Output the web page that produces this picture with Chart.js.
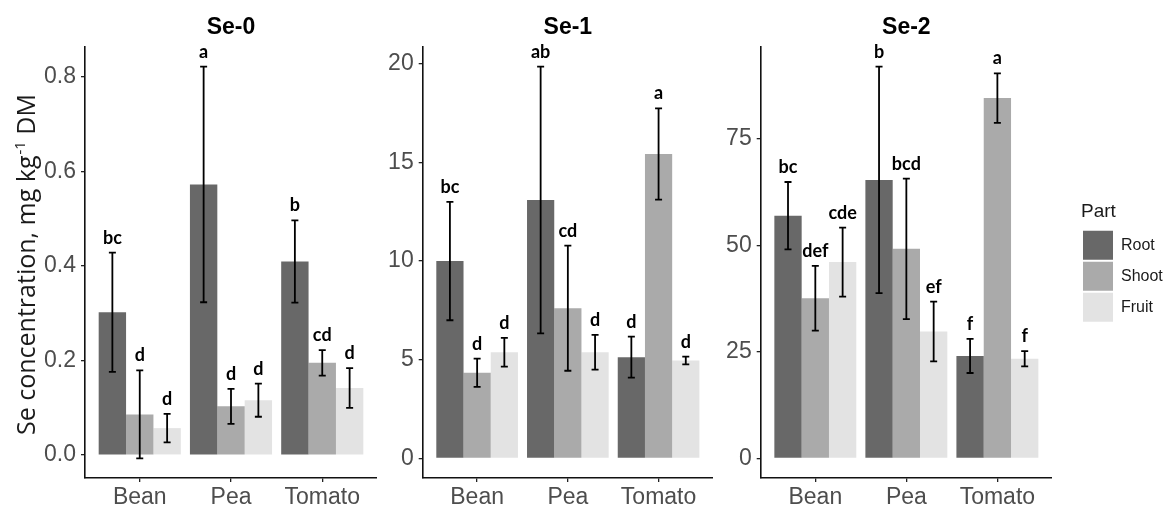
<!DOCTYPE html>
<html>
<head>
<meta charset="utf-8">
<script src="https://cdn.jsdelivr.net/npm/chart.js@4.4.1/dist/chart.umd.min.js"></script>
<style>
  html, body { margin: 0; padding: 0; background: #fff; overflow: hidden; }
  body { width: 1169px; height: 507px; position: relative; }
  canvas { position: absolute; top: 0; }
</style>
</head>
<body>
<canvas id="se0-chart" width="377" height="507" style="left:0px"></canvas>
<canvas id="se1-chart" width="333" height="507" style="left:380px"></canvas>
<canvas id="se2-chart" width="334" height="507" style="left:718px"></canvas>
<canvas id="legend-chart" width="240" height="507" style="left:1081px"></canvas>
<script>
const crops = ['Bean', 'Pea', 'Tomato'];
const parts = ['Root', 'Shoot', 'Fruit'];
const part_colors = ['#686868', '#aaaaaa', '#e3e3e3'];

// Se-0
const se0_root = [0.302, 0.572, 0.409];
const se0_root_err = [0.126, 0.249, 0.087];
const se0_shoot = [0.086, 0.103, 0.195];
const se0_shoot_err = [0.093, 0.037, 0.027];
const se0_fruit = [0.057, 0.116, 0.142];
const se0_fruit_err = [0.030, 0.035, 0.042];
const se0_letters = [['bc', 'a', 'b'], ['d', 'd', 'cd'], ['d', 'd', 'd']];
const se0_ticks = [0, 0.2, 0.4, 0.6, 0.8];
const se0_tick_labels = ['0.0', '0.2', '0.4', '0.6', '0.8'];

// Se-1
const se1_root = [10.0, 13.09, 5.13];
const se1_root_err = [3.0, 6.76, 1.04];
const se1_shoot = [4.34, 7.61, 15.42];
const se1_shoot_err = [0.72, 3.17, 2.31];
const se1_fruit = [5.38, 5.38, 4.96];
const se1_fruit_err = [0.73, 0.88, 0.2];
const se1_letters = [['bc', 'ab', 'd'], ['d', 'cd', 'a'], ['d', 'd', 'd']];
const se1_ticks = [0, 5, 10, 15, 20];
const se1_tick_labels = ['0', '5', '10', '15', '20'];

// Se-2
const se2_root = [57.0, 65.4, 24.05];
const se2_root_err = [7.9, 26.6, 4.0];
const se2_shoot = [37.6, 49.2, 84.6];
const se2_shoot_err = [7.6, 16.5, 5.8];
const se2_fruit = [46.1, 29.8, 23.4];
const se2_fruit_err = [8.1, 7.0, 1.8];
const se2_letters = [['bc', 'b', 'f'], ['def', 'bcd', 'a'], ['cde', 'ef', 'f']];
const se2_ticks = [0, 25, 50, 75];
const se2_tick_labels = ['0', '25', '50', '75'];

const tick_font = {family: '"Liberation Sans", Arial, sans-serif', size: 23};

const error_bars = {
	id: 'errorBars',
	afterDatasetsDraw(chart) {
		const ctx = chart.ctx;
		const y = chart.scales.y;
		ctx.save();
		chart.data.datasets.forEach((ds, d) => {
			const meta = chart.getDatasetMeta(d);
			meta.data.forEach((bar, i) => {
				const v = ds.data[i].y, e = ds.errors[i];
				const top = y.getPixelForValue(v + e);
				const bot = y.getPixelForValue(v - e);
				ctx.strokeStyle = '#000';
				ctx.lineWidth = 1.8;
				ctx.beginPath();
				ctx.moveTo(bar.x, top); ctx.lineTo(bar.x, bot);
				ctx.moveTo(bar.x - 3.5, top); ctx.lineTo(bar.x + 3.5, top);
				ctx.moveTo(bar.x - 3.5, bot); ctx.lineTo(bar.x + 3.5, bot);
				ctx.stroke();
				ctx.fillStyle = '#000';
				ctx.font = 'bold 18px Lato';
				ctx.textAlign = 'center';
				ctx.textBaseline = 'alphabetic';
				ctx.fillText(ds.letters[i], bar.x, top - 9);
			});
		});
		ctx.restore();
	}
};

const panel_title = {
	id: 'panelTitle',
	afterDraw(chart, args, opts) {
		const ctx = chart.ctx, area = chart.chartArea;
		ctx.save();
		ctx.fillStyle = '#000';
		ctx.font = 'bold 23px "Liberation Sans", Arial, sans-serif';
		ctx.textAlign = 'center';
		ctx.textBaseline = 'middle';
		ctx.fillText(opts.text, (area.left + area.right) / 2, 28);
		if (opts.yTitle) {
			// y title with superscript
			const a = 'Se concentration, mg kg', s = '-1', b = ' DM';
			const big = '25px "Open Sans", sans-serif', small = '15px "Open Sans", sans-serif';
			ctx.font = big;
			const wa = ctx.measureText(a).width, wb = ctx.measureText(b).width;
			ctx.font = small;
			const ws = ctx.measureText(s).width;
			ctx.translate(35, 265);
			ctx.rotate(-Math.PI / 2);
			ctx.textAlign = 'left';
			ctx.textBaseline = 'alphabetic';
			ctx.fillStyle = '#1a1a1a';
			let x0 = -(wa + ws + wb) / 2;
			ctx.font = big; ctx.fillText(a, x0, 0);
			ctx.font = small; ctx.fillText(s, x0 + wa + 1, -10);
			ctx.font = big; ctx.fillText(b, x0 + wa + ws + 1, 0);
		}
		ctx.restore();
	}
};

const make_panel = (canvas_id, title, series, errs, letters, y_ticks, y_labels, y_width, y_title) => {
	// ggplot style 5% expansion of the data range
	let lo = 0, hi = 0;
	series.forEach((s, k) => s.forEach((v, i) => {
		lo = Math.min(lo, v - errs[k][i]);
		hi = Math.max(hi, v + errs[k][i]);
	}));
	const pad = (hi - lo) * 0.05;

	const datasets = series.map((s, k) => ({
		label: parts[k],
		data: s.map((v, i) => ({x: i + 1, y: v})),
		errors: errs[k],
		letters: letters[k],
		backgroundColor: part_colors[k],
		borderWidth: 0,
		categoryPercentage: 0.9,
		barPercentage: 1.0
	}));

	return new Chart(document.getElementById(canvas_id), {
		type: 'bar',
		data: { datasets: datasets },
		plugins: [error_bars, panel_title],
		options: {
			responsive: false,
			animation: false,
			layout: { padding: { top: 47, right: 0, bottom: 0, left: 0 } },
			scales: {
				x: {
					type: 'linear',
					min: 0.4,
					max: 3.6,
					offset: false,
					afterBuildTicks: sc => { sc.ticks = crops.map((c, i) => ({value: i + 1})); },
					afterFit: sc => { sc.height = 29; },
					grid: { offset: false, drawOnChartArea: false, drawTicks: true, tickLength: 4, color: '#222', lineWidth: 1.3 },
					border: { display: true, color: '#111', width: 1.6 },
					ticks: {
						callback: (v, i) => crops[i],
						font: tick_font,
						color: '#4d4d4d',
						padding: 2,
						maxRotation: 0,
						autoSkip: false
					}
				},
				y: {
					min: lo - pad,
					max: hi + pad,
					afterBuildTicks: sc => { sc.ticks = y_ticks.map(v => ({value: v})); },
					afterFit: sc => { sc.width = y_width; },
					grid: { drawOnChartArea: false, drawTicks: true, tickLength: 4, color: '#222', lineWidth: 1.3 },
					border: { display: true, color: '#111', width: 1.6 },
					ticks: {
						callback: (v, i) => y_labels[i],
						font: tick_font,
						color: '#4d4d4d',
						padding: 5
					}
				}
			},
			plugins: {
				legend: { display: false },
				tooltip: { enabled: false },
				panelTitle: { text: title, yTitle: y_title }
			}
		}
	});
};

make_panel('se0-chart', 'Se-0',
	[se0_root, se0_shoot, se0_fruit], [se0_root_err, se0_shoot_err, se0_fruit_err],
	se0_letters, se0_ticks, se0_tick_labels, 85, true);
make_panel('se1-chart', 'Se-1',
	[se1_root, se1_shoot, se1_fruit], [se1_root_err, se1_shoot_err, se1_fruit_err],
	se1_letters, se1_ticks, se1_tick_labels, 42.7, false);
make_panel('se2-chart', 'Se-2',
	[se2_root, se2_shoot, se2_fruit], [se2_root_err, se2_shoot_err, se2_fruit_err],
	se2_letters, se2_ticks, se2_tick_labels, 42.7, false);

// legend only chart
new Chart(document.getElementById('legend-chart'), {
	type: 'bar',
	data: {
		labels: [],
		datasets: parts.map((p, k) => ({ label: p, data: [], backgroundColor: part_colors[k], borderWidth: 0 }))
	},
	options: {
		responsive: false,
		animation: false,
		layout: { padding: { top: 202 } },
		scales: { x: { display: false }, y: { display: false } },
		plugins: {
			tooltip: { enabled: false },
			legend: {
				position: 'left',
				align: 'start',
				title: {
					display: true,
					text: 'Part',
					position: 'start',
					color: '#1a1a1a',
					font: { family: '"Liberation Sans", Arial, sans-serif', size: 19 },
					padding: { top: 0, bottom: 4 }
				},
				labels: {
					boxWidth: 30,
					boxHeight: 29,
					padding: 2,
					color: '#1a1a1a',
					font: { family: '"Liberation Sans", Arial, sans-serif', size: 16 }
				}
			}
		}
	}
});
</script>
</body>
</html>
